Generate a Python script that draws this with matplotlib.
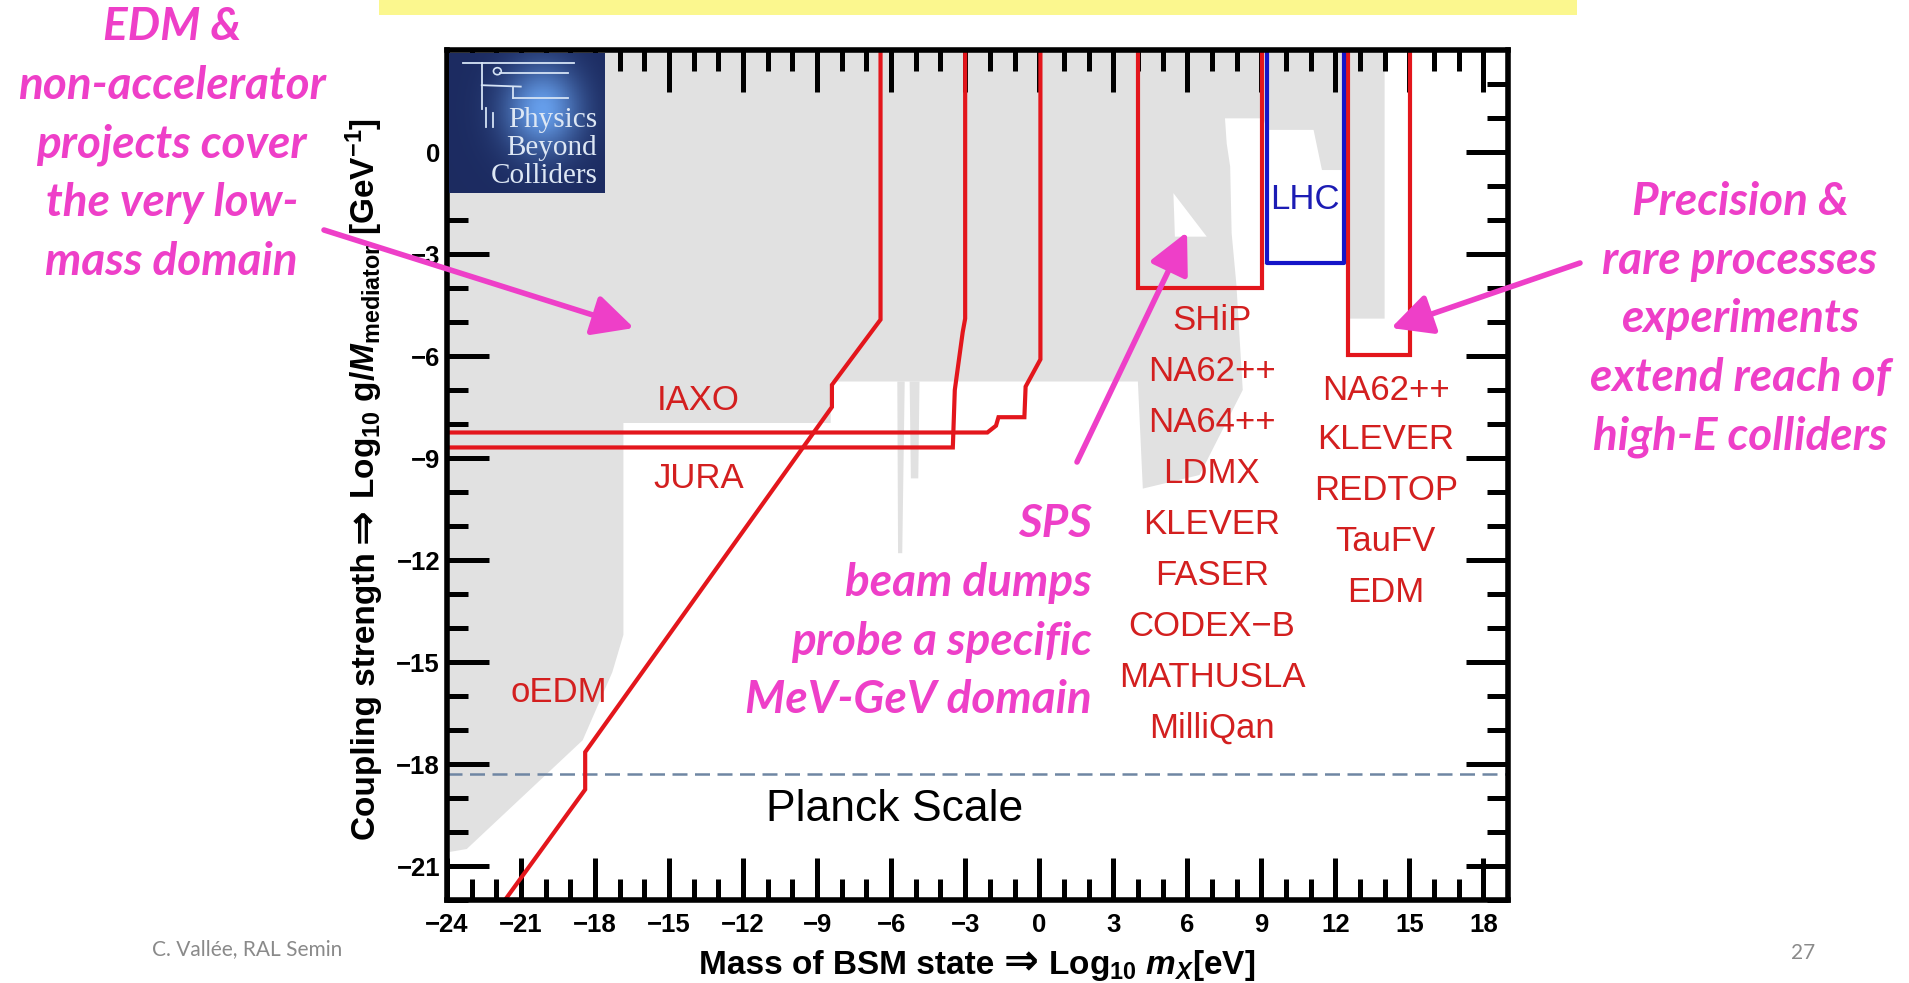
import numpy as np
import matplotlib
matplotlib.use('Agg')
import matplotlib.pyplot as plt
from matplotlib.patches import Polygon, Rectangle, Circle

plt.rcParams['font.family'] = ['Liberation Sans', 'DejaVu Sans']
plt.rcParams['mathtext.fontset'] = 'custom'
plt.rcParams['mathtext.rm'] = 'Liberation Sans:bold'
plt.rcParams['mathtext.it'] = 'Liberation Sans:italic:bold'
plt.rcParams['mathtext.bf'] = 'Liberation Sans:bold'

# ---- data: x = log10(m_X / eV), y = log10(g/M [GeV^-1]) ----
# grey: already excluded region
excl_x = [-24, 14.0, 14.0, 12.45, 12.45, 9.1, 9.1, 8.0, 8.25, 6.5, 4.2, 4.0,
          -8.45, -8.45, -16.85, -16.85, -17.3, -18.5, -23.2, -24]
excl_y = [3, 3, -4.9, -4.9, -3.3, -3.3, -4.0, -4.0, -7.0, -9.5, -9.9, -6.75,
          -6.75, -7.97, -7.97, -14.2, -15.3, -17.3, -20.5, -20.6]
spike1_x = [-5.75, -5.72, -5.55, -5.45]
spike1_y = [-6.75, -11.8, -11.8, -6.75]
spike2_x = [-5.25, -5.2, -4.9, -4.85]
spike2_y = [-6.75, -9.6, -9.6, -6.75]
# unexcluded pockets inside the grey area
hole1_x = [5.44, 6.79, 5.5]
hole1_y = [-1.21, -2.49, -2.49]
hole2_x = [7.53, 9.09, 9.22, 11.12, 11.46, 12.34, 12.34, 9.09, 9.09, 8.0, 7.8, 7.74, 7.6]
hole2_y = [0.99, 0.99, 0.65, 0.65, -0.53, -0.53, -3.27, -3.27, -3.96, -3.96, -2.39, -0.43, 0.25]

# projected sensitivities
oedm_x = [-21.65, -18.4, -18.4, -8.4, -8.4, -6.43, -6.43]
oedm_y = [-22, -18.75, -17.65, -7.5, -6.85, -4.93, 3]
jura_x = [-24, -3.5, -3.42, -3.1, -3.0, -3.0]
jura_y = [-8.69, -8.69, -7.0, -5.3, -4.9, 3]
iaxo_x = [-24, -2.1, -1.75, -1.65, -0.6, -0.55, 0.05, 0.05]
iaxo_y = [-8.25, -8.25, -8.05, -7.8, -7.8, -6.9, -6.1, 3]
ship_x = [4.0, 4.0, 9.05, 9.05]
ship_y = [3, -4.0, -4.0, 3]
lhc_x = [9.22, 9.22, 12.35, 12.35]
lhc_y = [3, -3.27, -3.27, 3]
na62_x = [12.52, 12.52, 15.02, 15.02]
na62_y = [3, -5.96, -5.96, 3]
planck_y = -18.3

# labels
exp_labels = ['IAXO', 'JURA', 'oEDM']
exp_lx = [-13.8, -13.8, -19.45]
exp_ly = [-7.3, -9.6, -15.9]
sps_labels = ['SHiP', 'NA62++', 'NA64++', 'LDMX', 'KLEVER', 'FASER',
              'CODEX\u2212B', 'MATHUSLA', 'MilliQan']
sps_x = 7.0
sps_y = [-4.95, -6.45, -7.95, -9.45, -10.95, -12.45, -13.95, -15.45, -16.95]
rare_labels = ['NA62++', 'KLEVER', 'REDTOP', 'TauFV', 'EDM']
rare_x = 14.05
rare_y = [-7.0, -8.45, -9.95, -11.45, -12.95]

red = '#e3161c'
red_txt = '#d31f1f'
pink = '#ee3fc8'
grey = '#e1e1e1'
W, H = 1909, 983

fig = plt.figure(figsize=(19.09, 9.83), dpi=100)
ax = fig.add_axes([447/W, 83/H, 1061/W, 850/H])

ax.add_patch(Polygon(np.column_stack([excl_x, excl_y]), closed=True, fc=grey, ec='none', zorder=0.5))
for px, py in [(spike1_x, spike1_y), (spike2_x, spike2_y)]:
    ax.add_patch(Polygon(np.column_stack([px, py]), closed=True, fc=grey, ec='none', zorder=0.5))
for px, py in [(hole1_x, hole1_y), (hole2_x, hole2_y)]:
    ax.add_patch(Polygon(np.column_stack([px, py]), closed=True, fc='white', ec='none', zorder=0.6))

ax.axhline(planck_y, color='#6f86a3', lw=1.8, ls=(0, (6, 3)), zorder=1)
ax.text(-5.86, -19.35, 'Planck Scale', fontsize=32, ha='center', va='center', color='black')

for xs, ys in [(oedm_x, oedm_y), (jura_x, jura_y), (iaxo_x, iaxo_y),
               (ship_x, ship_y), (na62_x, na62_y)]:
    ax.plot(xs, ys, color=red, lw=3, zorder=2, solid_joinstyle='miter')
ax.plot(lhc_x, lhc_y, color='#1414c8', lw=3, zorder=2)
ax.text(10.78, -1.41, 'LHC', color='#1c1cb4', fontsize=25, ha='center', va='center')

for lab, lx, ly in zip(exp_labels, exp_lx, exp_ly):
    ax.text(lx, ly, lab, color=red_txt, fontsize=25, ha='center', va='center')
for lab, ly in zip(sps_labels, sps_y):
    ax.text(sps_x, ly, lab, color=red_txt, fontsize=25, ha='center', va='center')
for lab, ly in zip(rare_labels, rare_y):
    ax.text(rare_x, ly, lab, color=red_txt, fontsize=25, ha='center', va='center')

ax.set_xlim(-24, 19)
ax.set_ylim(-22, 3)
ax.set_xticks(np.arange(-24, 19, 3))
ax.set_xticks(np.arange(-24, 19, 1), minor=True)
ax.set_yticks(np.arange(-21, 1, 3))
ax.set_yticks(np.arange(-22, 3, 1), minor=True)
ax.tick_params(which='both', direction='in', top=True, right=True, width=3.6, color='black')
ax.tick_params(which='major', length=30, labelsize=18.5, pad=9)
ax.tick_params(axis='y', which='major', pad=5)
ax.tick_params(which='minor', length=15)
for lbl in ax.get_xticklabels() + ax.get_yticklabels():
    lbl.set_fontweight('bold')
for s in ax.spines.values():
    s.set_linewidth(4)

# axis titles, typeset in pieces so the double arrow can be larger
renderer = fig.canvas.get_renderer()
arrow_kw = dict(fontsize=30, fontweight='bold', family='DejaVu Sans')
lab_kw = dict(fontsize=24, fontweight='bold')


def run_of_text(pieces, x0, y0, rotation=0, center=False):
    arts = [fig.text(0, 0, s, rotation=rotation, rotation_mode='anchor',
                     ha='left', va='baseline', transform=None, **kw) for s, kw in pieces]
    sizes = []
    for t in arts:
        bb = t.get_window_extent(renderer)
        sizes.append(bb.width if rotation == 0 else bb.height)
    pos = (x0 if rotation == 0 else y0) - (sum(sizes) / 2 if center else 0)
    for t, sz in zip(arts, sizes):
        t.set_position((pos, y0) if rotation == 0 else (x0, pos))
        pos += sz


run_of_text([('Mass of BSM state ', lab_kw), ('\u21d2', arrow_kw),
             (r' Log$_{10}$ $m_X$[eV]', lab_kw)], 977, 9, center=True)
run_of_text([('Coupling strength ', lab_kw), ('\u21d2', arrow_kw),
             (r' Log$_{10}$ g/$M_{\rm mediator}$ [GeV$^{-1}$]', lab_kw)], 375, 143, rotation=90)

# logo
lax = fig.add_axes([449/W, 1 - 193/H, 156/W, 140/H])
gx, gy = np.meshgrid(np.linspace(0, 1, 90), np.linspace(0, 1, 90))
glow = np.exp(-((gx - 0.6)**2 / 0.06 + (gy - 0.6)**2 / 0.1))
c0 = np.array([0.11, 0.17, 0.38])
c1 = np.array([0.40, 0.62, 0.92])
lax.imshow(c0 + glow[..., None] * (c1 - c0), extent=[0, 1, 0, 1], origin='lower', aspect='auto')
lc = '#d5e3f5'
for (x0, y0), (x1, y1) in [((0.09, 0.93), (0.80, 0.93)), ((0.21, 0.93), (0.21, 0.60)),
                           ((0.33, 0.86), (0.76, 0.86)), ((0.21, 0.77), (0.46, 0.76)),
                           ((0.41, 0.76), (0.41, 0.68)), ((0.41, 0.68), (0.76, 0.68)),
                           ((0.24, 0.61), (0.24, 0.47)), ((0.28, 0.57), (0.28, 0.47))]:
    lax.plot([x0, x1], [y0, y1], color=lc, lw=1.3)
lax.add_patch(Circle((0.31, 0.87), 0.025, fc='none', ec=lc, lw=1.2))
for word, wy in zip(['Physics', 'Beyond', 'Colliders'], [0.52, 0.32, 0.12]):
    lax.text(0.95, wy, word, color='#dde7f4', fontsize=21, family='Liberation Serif',
             ha='right', va='center')
lax.set_xlim(0, 1)
lax.set_ylim(0, 1)
lax.axis('off')

# slide decorations
fig.patches.append(Rectangle((379/W, 1 - 15/H), 1198/W, 15/H,
                             transform=fig.transFigure, fc='#fbf78e', ec='none'))
pk = dict(color=pink, fontsize=33, fontweight='bold', fontstyle='italic',
          family='Lato', linespacing=1.49)
fig.text(0.090, 0.853, 'EDM &\nnon-accelerator\nprojects cover\nthe very low-\nmass domain',
         ha='center', va='center', multialignment='center', **pk)
fig.text(0.572, 0.377, 'SPS\nbeam dumps\nprobe a specific\nMeV-GeV domain',
         ha='right', va='center', multialignment='right', zorder=5, **pk)
fig.text(0.9115, 0.675, 'Precision &\nrare processes\nexperiments\nextend reach of\nhigh-E colliders',
         ha='center', va='center', multialignment='center', **pk)
for tail, tip in [((324, 753), (634, 655)), ((1077, 521), (1187, 751)), ((1580, 720), (1391, 655))]:
    ax.annotate('', xy=tip, xycoords='figure pixels', xytext=tail, textcoords='figure pixels',
                arrowprops=dict(arrowstyle='-|>,head_length=1.0,head_width=0.5', color=pink,
                                lw=4, mutation_scale=25, shrinkA=0, shrinkB=0),
                annotation_clip=False, zorder=6)
fig.text(152/W, 0.034, 'C. Vall\u00e9e, RAL Semin', color='#8a8a8a', fontsize=15,
         family='Lato', ha='left', va='center')
fig.text(0.9445, 0.031, '27', color='#8a8a8a', fontsize=15, family='Lato', ha='center', va='center')

fig.savefig('out.png', dpi=100)
